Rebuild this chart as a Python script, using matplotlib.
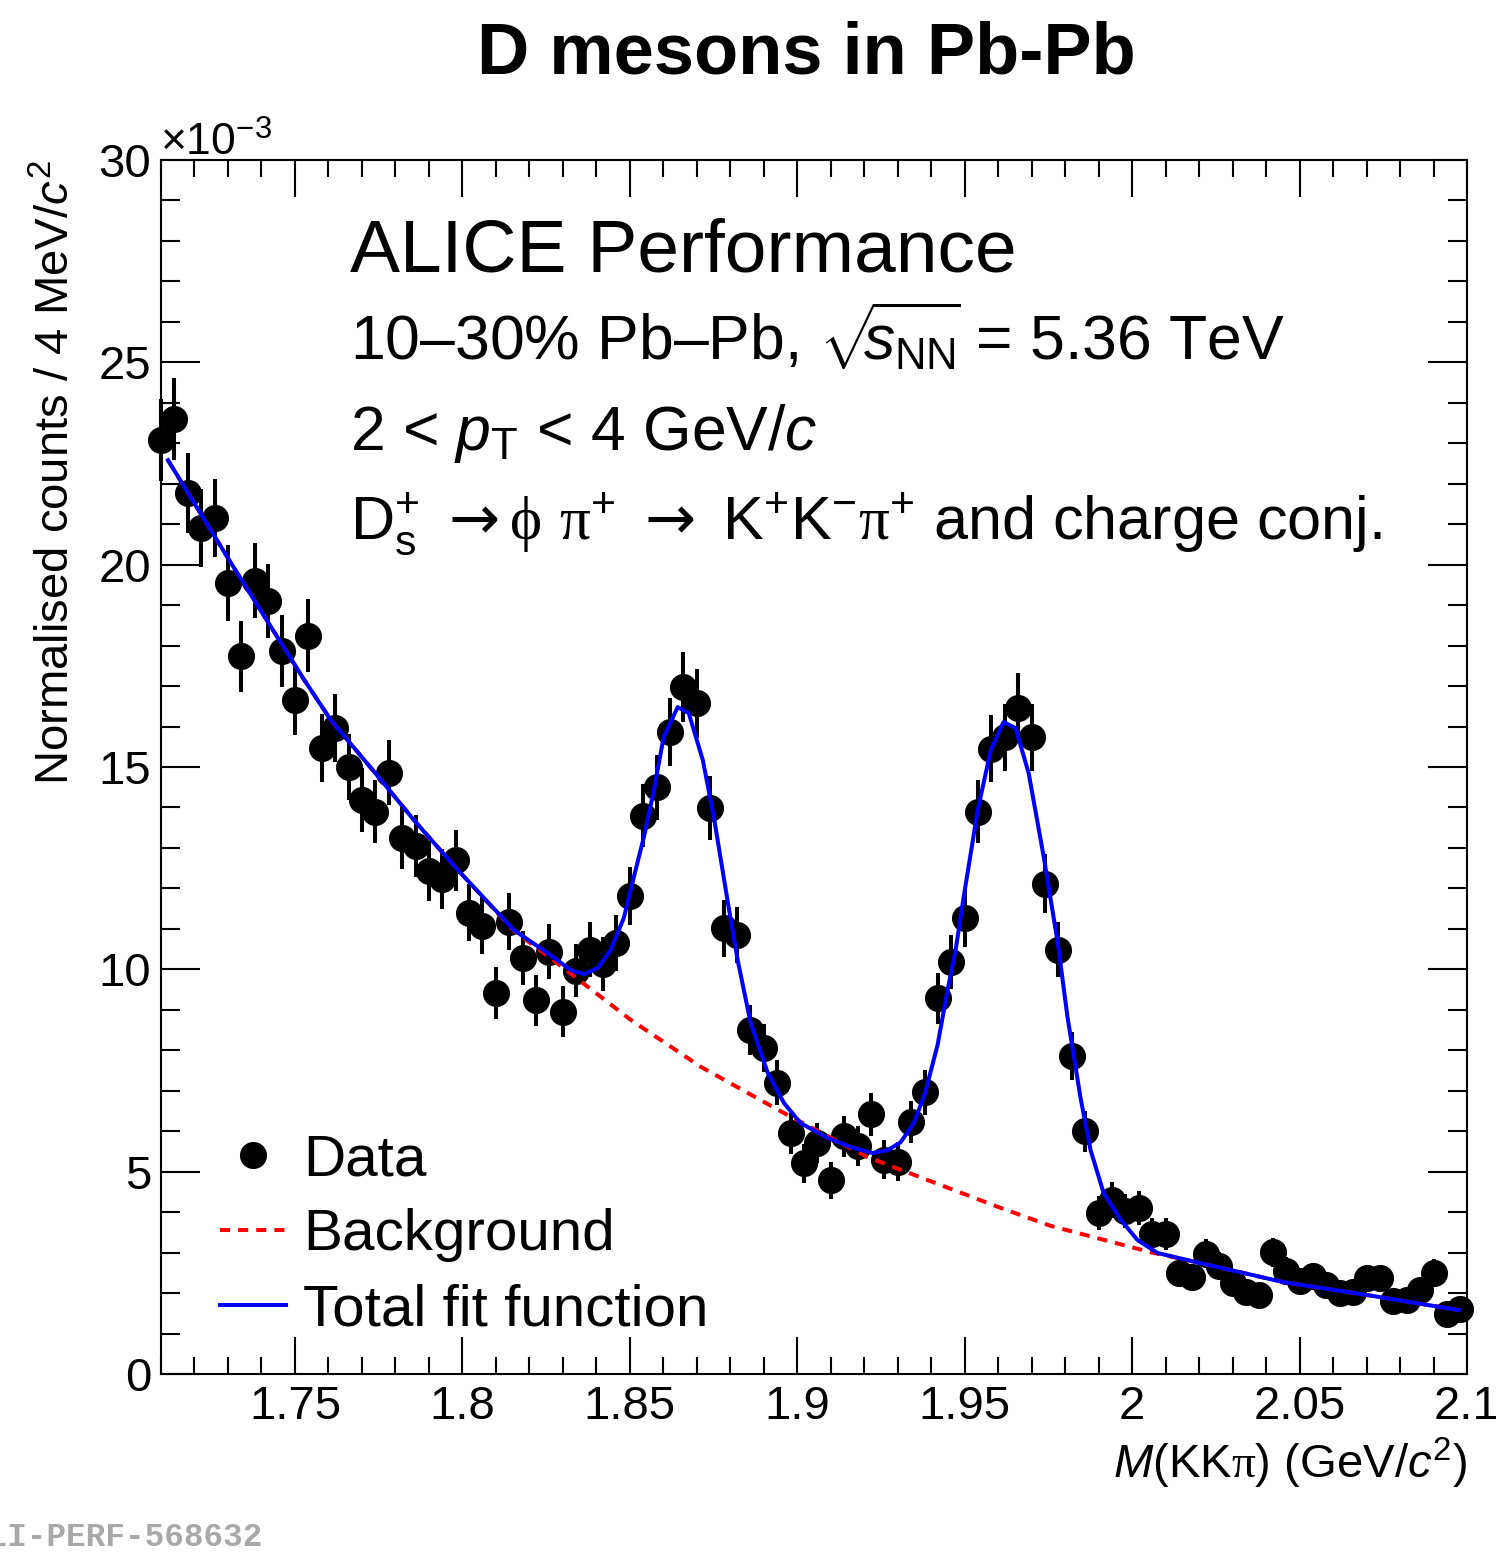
import matplotlib
matplotlib.use("Agg")
import matplotlib.pyplot as plt
from matplotlib.ticker import MultipleLocator, FuncFormatter
from matplotlib.lines import Line2D

plt.rcParams['font.family'] = ['Liberation Sans', 'DejaVu Sans']
plt.rcParams['mathtext.fontset'] = 'custom'
plt.rcParams['mathtext.rm'] = 'Liberation Sans'
plt.rcParams['mathtext.it'] = 'Liberation Sans:italic'
plt.rcParams['mathtext.bf'] = 'Liberation Sans:bold'
plt.rcParams['mathtext.sf'] = 'DejaVu Sans'        # arrows
plt.rcParams['mathtext.tt'] = 'Liberation Serif'   # symbol-like greek

# data points (counts in units of 1e-3), 4 MeV bins
mass = [1.710 + 0.004 * i for i in range(98)]
counts = [23.08, 23.6, 21.77, 20.9, 21.15, 19.55, 17.74, 19.6, 19.1, 17.87,
          16.65, 18.24, 15.47, 15.96, 15.0, 14.18, 13.9, 14.86, 13.24, 13.05,
          12.44, 12.24, 12.69, 11.4, 11.08, 9.42, 11.18, 10.28, 9.23, 10.43,
          8.95, 9.97, 10.48, 10.13, 10.66, 11.81, 13.8, 14.5, 15.87, 16.98,
          16.57, 13.98, 11.01, 10.85, 8.5, 8.06, 7.2, 5.95, 5.21, 5.71,
          4.79, 5.87, 5.64, 6.42, 5.3, 5.25, 6.22, 6.96, 9.28, 10.19,
          11.26, 13.89, 15.45, 15.73, 16.47, 15.73, 12.12, 10.48, 7.85, 6.0,
          3.98, 4.3, 4.03, 4.1, 3.46, 3.46, 2.5, 2.4, 2.97, 2.67,
          2.25, 2.03, 1.95, 3.01, 2.55, 2.3, 2.42, 2.2, 2.0, 2.03,
          2.37, 2.37, 1.8, 1.83, 2.08, 2.5, 1.48, 1.6]
errors = [1.01, 1.02, 0.98, 0.96, 0.97, 0.93, 0.88, 0.93, 0.92, 0.89,
          0.86, 0.90, 0.83, 0.84, 0.81, 0.79, 0.78, 0.81, 0.76, 0.76,
          0.74, 0.74, 0.75, 0.71, 0.70, 0.64, 0.70, 0.67, 0.64, 0.68,
          0.63, 0.66, 0.68, 0.67, 0.69, 0.72, 0.78, 0.80, 0.84, 0.87,
          0.86, 0.79, 0.70, 0.69, 0.61, 0.60, 0.56, 0.51, 0.48, 0.50,
          0.46, 0.51, 0.50, 0.53, 0.49, 0.48, 0.52, 0.55, 0.64, 0.67,
          0.70, 0.78, 0.83, 0.83, 0.85, 0.83, 0.73, 0.68, 0.59, 0.51,
          0.42, 0.44, 0.42, 0.43, 0.39, 0.39, 0.33, 0.33, 0.36, 0.34,
          0.32, 0.30, 0.29, 0.36, 0.34, 0.32, 0.33, 0.31, 0.30, 0.30,
          0.32, 0.32, 0.28, 0.28, 0.30, 0.33, 0.26, 0.27]

# total fit function
fit_x = [1.7121, 1.7309, 1.7524, 1.7607, 1.7757, 1.7855, 1.7987, 1.8154, 1.8255, 1.8324,
         1.8363, 1.8404, 1.8443, 1.8482, 1.8512, 1.8542, 1.8572, 1.8601, 1.8643, 1.8676,
         1.8718, 1.8751, 1.8793, 1.8822, 1.8861, 1.8912, 1.8960, 1.9010, 1.9091, 1.9160,
         1.9225, 1.9270, 1.9309, 1.9348, 1.9381, 1.9419, 1.9449, 1.9473, 1.9497, 1.9539,
         1.9578, 1.9616, 1.9652, 1.9691, 1.9736, 1.9778, 1.9807, 1.9846, 1.9876, 1.9915,
         1.9966, 2.0016, 2.0076, 2.0204, 2.0452, 2.0703, 2.0975]
fit_y = [22.58, 20.04, 17.20, 16.16, 14.68, 13.69, 12.45, 10.97, 10.40, 9.98,
         9.88, 10.03, 10.48, 11.27, 12.28, 13.27, 14.43, 15.74, 16.48, 16.33,
         15.17, 13.76, 11.64, 10.23, 8.67, 7.44, 6.70, 6.20, 5.83, 5.61,
         5.46, 5.53, 5.73, 6.20, 6.92, 8.13, 9.49, 10.48, 11.79, 13.94,
         15.42, 16.11, 15.96, 14.85, 12.78, 10.65, 8.82, 6.82, 5.53, 4.47,
         3.81, 3.31, 2.99, 2.74, 2.27, 1.95, 1.58]

# background function
bkg_x = [1.7121, 1.7309, 1.7524, 1.7607, 1.7757, 1.7855, 1.7987, 1.8154, 1.8255,
         1.8503, 1.8712, 1.8960, 1.9210, 1.9599, 1.9757, 2.0055, 2.0204, 2.0452,
         2.0703, 2.0975]
bkg_y = [22.58, 20.04, 17.20, 16.16, 14.68, 13.69, 12.45, 10.95, 10.33,
         8.75, 7.59, 6.45, 5.36, 4.13, 3.66, 3.01, 2.74, 2.27,
         1.95, 1.58]

W, H = 1496, 1554
fig = plt.figure(figsize=(W / 100, H / 100), dpi=100)
ax = fig.add_axes([161 / W, 1 - 1374 / H, (1467 - 161) / W, (1374 - 160) / H])

eb = ax.errorbar(mass, counts, yerr=errors, fmt='o', color='black', ms=18.5,
                 elinewidth=2.9, capsize=0, zorder=2)
eb[0].set_clip_on(False)
for c in eb[2]:
    c.set_clip_on(False)
ax.plot(bkg_x, bkg_y, color='#ff0000', lw=2.9, dashes=(2.5, 2), zorder=3)
ax.plot(fit_x, fit_y, color='#0000ff', lw=2.9, zorder=4)

ax.set_xlim(1.71, 2.1)
ax.set_ylim(0, 30)
ax.xaxis.set_major_locator(MultipleLocator(0.05))
ax.xaxis.set_minor_locator(MultipleLocator(0.01))
ax.yaxis.set_major_locator(MultipleLocator(5))
ax.yaxis.set_minor_locator(MultipleLocator(1))
ax.xaxis.set_major_formatter(FuncFormatter(lambda v, p: f'{round(v, 3):g}'))
ax.yaxis.set_major_formatter(FuncFormatter(lambda v, p: f'{round(v, 3):g}'))
ax.tick_params(which='both', direction='in', top=True, right=True, width=1.5,
               labelsize=34)
ax.tick_params(axis='x', which='major', length=26.5, pad=8)
ax.tick_params(axis='x', which='minor', length=12)
ax.tick_params(axis='y', which='major', length=28, pad=7)
ax.tick_params(axis='y', which='minor', length=14)
for s in ax.spines.values():
    s.set_linewidth(1.5)

# axis titles
fig.text(57 / W, 1 - 160 / H, 'Normalised counts / 4 MeV/$c^2$', rotation=90,
         ha='center', va='top', fontsize=34)
fig.text(1467 / W, 1 - 1478 / H, r'$M$(KK$\mathtt{\pi}$) (GeV/$c^2$)', ha='right',
         va='baseline', fontsize=34)
fig.text(160 / W, 1 - 156 / H, r'×10$^{-3}$', ha='left', va='baseline', fontsize=32)

fig.text(806 / W, 1 - 74 / H, 'D mesons in Pb-Pb', ha='center', va='baseline',
         fontsize=52, fontweight='bold')

# labels in the plot
fig.text(350 / W, 1 - 272 / H, 'ALICE Performance', fontsize=54, va='baseline')
fig.text(350 / W, 1 - 360 / H,
         r'10–30% Pb–Pb, $\sqrt{\!\!s_{\mathrm{NN}}\!}$ = 5.36 TeV',
         fontsize=45, va='baseline')
fig.text(350 / W, 1 - 450 / H, r'2 < $p_{\mathrm{T}}$ < 4 GeV/$c$',
         fontsize=45, va='baseline')
fig.text(350 / W, 1 - 540 / H,
         r'D$_{\mathrm{s}}^{+}$ $\mathsf{\rightarrow}\mathtt{\phi}$ $\mathtt{\pi}^{+}$ '
         r'$\mathsf{\rightarrow}$ K$^{+}$K$^{-}$$\mathtt{\pi}^{+}$ and charge conj.',
         fontsize=44, va='baseline')

handles = [Line2D([], [], marker='o', ls='none', color='black', ms=18.5),
           Line2D([], [], color='#ff0000', lw=2.9, dashes=(2.5, 2)),
           Line2D([], [], color='#0000ff', lw=2.9)]
fig.legend(handles, ['Data', 'Background', 'Total fit function'],
           loc='upper left', bbox_to_anchor=(220 / W, 1 - 1133 / H),
           frameon=False, fontsize=42, handlelength=1.13, handletextpad=0.3,
           labelspacing=0.36, borderpad=0, borderaxespad=0)

fig.text(262 / W, 1 - 1546 / H, 'ALI-PERF-568632', ha='right', va='baseline',
         fontsize=23.5, family='Liberation Mono', fontweight='bold', color='#a8a8a8')

fig.savefig('out.png', dpi=100)
